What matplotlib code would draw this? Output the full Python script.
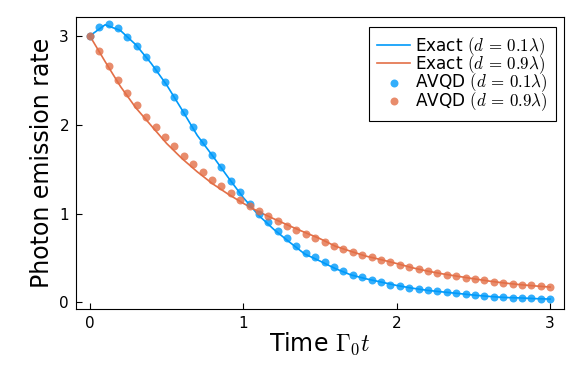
import numpy as np
import matplotlib
matplotlib.use("Agg")
import matplotlib.pyplot as plt

plt.rcParams['mathtext.fontset'] = 'cm'
plt.rcParams['xtick.direction'] = 'in'
plt.rcParams['ytick.direction'] = 'in'
plt.rcParams['xtick.labelsize'] = 11
plt.rcParams['ytick.labelsize'] = 11
plt.rcParams['xtick.major.size'] = 4
plt.rcParams['ytick.major.size'] = 4
plt.rcParams['xtick.major.pad'] = 5
plt.rcParams['ytick.major.pad'] = 5

# Exact curves, sampled every 0.1 in Gamma_0 t
t_exact = np.round(np.arange(0, 3.01, 0.1), 2)
exact_d01 = [3.0, 3.125, 3.06, 2.90, 2.69, 2.45, 2.17, 1.88, 1.65, 1.41,
             1.18, 0.98, 0.82, 0.68, 0.545, 0.465, 0.38, 0.31, 0.265, 0.228,
             0.19, 0.16, 0.135, 0.117, 0.10, 0.082, 0.067, 0.055, 0.05, 0.042,
             0.037]
exact_d09 = [3.0, 2.71, 2.43, 2.19, 1.99, 1.79, 1.62, 1.47, 1.335, 1.22,
             1.115, 1.02, 0.94, 0.862, 0.788, 0.717, 0.632, 0.575, 0.52, 0.48,
             0.437, 0.39, 0.352, 0.32, 0.293, 0.266, 0.24, 0.218, 0.20, 0.185,
             0.172]

# AVQD points, 50 time steps from 0 to 3
t_avqd = np.linspace(0, 3, 50)
avqd_d01 = [3.0, 3.105, 3.13, 3.093, 2.99, 2.89, 2.76, 2.63, 2.48, 2.31,
            2.14, 1.97, 1.81, 1.66, 1.52, 1.37, 1.24, 1.11, 1.00, 0.90,
            0.805, 0.72, 0.633, 0.56, 0.506, 0.45, 0.40, 0.352, 0.31, 0.285,
            0.254, 0.228, 0.20, 0.18, 0.161, 0.146, 0.135, 0.124, 0.112, 0.101,
            0.09, 0.079, 0.071, 0.063, 0.056, 0.052, 0.048, 0.045, 0.04, 0.037]
avqd_d09 = [3.0, 2.83, 2.66, 2.50, 2.36, 2.22, 2.09, 1.975, 1.86, 1.755,
            1.65, 1.56, 1.47, 1.38, 1.305, 1.226, 1.155, 1.087, 1.027, 0.967,
            0.915, 0.862, 0.813, 0.765, 0.72, 0.678, 0.637, 0.60, 0.566, 0.535,
            0.506, 0.474, 0.45, 0.425, 0.40, 0.375, 0.35, 0.333, 0.31, 0.296,
            0.277, 0.262, 0.247, 0.232, 0.22, 0.21, 0.198, 0.19, 0.18, 0.172]

x_ticks = [0, 1, 2, 3]
y_ticks = [0, 1, 2, 3]

blue = '#009AFA'
orange = '#E36F47'

fig = plt.figure(figsize=(5.81, 3.88), dpi=100)
ax = fig.add_axes([0.1308, 0.2036, 0.8399, 0.7534])

ax.plot(t_exact, exact_d01, color=blue, lw=1.2, label=r"Exact $(d\,=\,0.1\lambda)$")
ax.plot(t_exact, exact_d09, color=orange, lw=1.2, label=r"Exact $(d\,=\,0.9\lambda)$")
ax.scatter(t_avqd, avqd_d01, s=33, color=blue, alpha=0.8, lw=0,
           label=r"AVQD $(d\,=\,0.1\lambda)$", zorder=3)
ax.scatter(t_avqd, avqd_d09, s=33, color=orange, alpha=0.8, lw=0,
           label=r"AVQD $(d\,=\,0.9\lambda)$", zorder=3)

ax.set_xlim(-0.09, 3.09)
ax.set_ylim(-0.075, 3.216)
ax.set_xticks(x_ticks)
ax.set_yticks(y_ticks)

ax.set_xlabel(r"Time $\Gamma_0 t$", fontsize=17, labelpad=0)
ax.set_ylabel("Photon emission rate", fontsize=17, labelpad=4)

leg = ax.legend(loc='upper right', fontsize=12.2, frameon=True, fancybox=False,
                edgecolor='black', framealpha=1, handlelength=1.95,
                handletextpad=0.3, borderpad=0.5, labelspacing=-0.26,
                borderaxespad=0, bbox_to_anchor=(0.984, 0.966))
leg.get_frame().set_linewidth(0.8)

fig.savefig("out.png", dpi=100)
